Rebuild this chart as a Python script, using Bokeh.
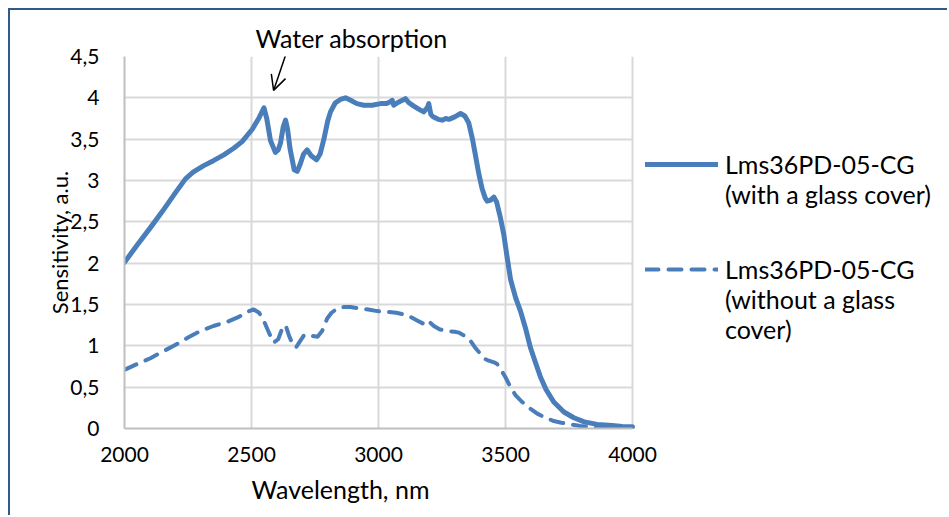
from bokeh.plotting import figure
from bokeh.models import (Legend, LegendItem, Title, Arrow, OpenHead, FixedTicker,
                          CustomJSTickFormatter, Range1d, Grid)
from bokeh.embed import file_html
from bokeh.resources import INLINE

# ---- data ----
wl_glass = [2000, 2050, 2102, 2150, 2200, 2240, 2270, 2312, 2350, 2391, 2430, 2463, 2503,
            2530, 2549, 2560, 2575, 2594, 2605, 2614, 2625, 2634, 2642, 2652, 2668, 2680,
            2692, 2705, 2719, 2735, 2756, 2770, 2785, 2800, 2811, 2830, 2850, 2870, 2890,
            2915, 2942, 2975, 3008, 3030, 3045, 3054, 3060, 3080, 3106, 3120, 3139, 3160,
            3178, 3192, 3198, 3206, 3215, 3235, 3251, 3265, 3277, 3300, 3323, 3340, 3355,
            3370, 3382, 3395, 3408, 3420, 3428, 3440, 3454, 3465, 3480, 3493, 3505, 3520,
            3540, 3559, 3580, 3598, 3620, 3638, 3660, 3690, 3730, 3769, 3810, 3861, 3920,
            3960, 4000]
sens_glass = [2.01, 2.22, 2.43, 2.63, 2.85, 3.02, 3.10, 3.18, 3.24, 3.31, 3.39, 3.47, 3.62,
              3.76, 3.88, 3.75, 3.48, 3.34, 3.37, 3.45, 3.65, 3.73, 3.62, 3.38, 3.13, 3.11,
              3.20, 3.32, 3.37, 3.30, 3.25, 3.32, 3.50, 3.72, 3.83, 3.94, 3.98, 4.00, 3.97,
              3.93, 3.91, 3.91, 3.93, 3.93, 3.95, 3.97, 3.91, 3.95, 3.99, 3.94, 3.90, 3.86,
              3.83, 3.88, 3.93, 3.80, 3.77, 3.74, 3.73, 3.75, 3.74, 3.77, 3.81, 3.78, 3.70,
              3.50, 3.30, 3.08, 2.90, 2.79, 2.75, 2.76, 2.80, 2.74, 2.55, 2.35, 2.10, 1.80,
              1.58, 1.42, 1.20, 0.98, 0.78, 0.62, 0.47, 0.32, 0.20, 0.13, 0.08, 0.05, 0.035,
              0.025, 0.02]

wl_noglass = [2000, 2050, 2102, 2150, 2194, 2250, 2299, 2350, 2404, 2450, 2483, 2509, 2530,
              2549, 2570, 2588, 2605, 2620, 2634, 2648, 2662, 2675, 2690, 2705, 2720, 2740,
              2760, 2778, 2798, 2815, 2837, 2865, 2890, 2930, 2960, 2995, 3034, 3070, 3100,
              3126, 3150, 3175, 3190, 3200, 3218, 3240, 3270, 3300, 3316, 3340, 3362, 3380,
              3402, 3420, 3434, 3455, 3467, 3480, 3500, 3520, 3540, 3566, 3598, 3625, 3651,
              3690, 3720, 3756, 3795, 3830, 3861, 3900, 3950, 4000]
sens_noglass = [0.71, 0.78, 0.85, 0.93, 1.00, 1.10, 1.18, 1.24, 1.29, 1.35, 1.41, 1.44, 1.40,
                1.30, 1.15, 1.04, 1.08, 1.20, 1.25, 1.12, 1.02, 0.98, 1.05, 1.12, 1.14, 1.12,
                1.11, 1.18, 1.33, 1.40, 1.45, 1.47, 1.47, 1.45, 1.44, 1.42, 1.41, 1.40, 1.38,
                1.35, 1.31, 1.27, 1.31, 1.29, 1.24, 1.20, 1.18, 1.17, 1.16, 1.12, 1.06, 0.98,
                0.90, 0.84, 0.82, 0.80, 0.78, 0.72, 0.62, 0.50, 0.40, 0.32, 0.24, 0.18, 0.14,
                0.09, 0.07, 0.05, 0.03, 0.02, 0.01, 0.0, 0.005, 0.01]

x_ticks = [2000, 2500, 3000, 3500, 4000]
y_ticks = [0, 0.5, 1, 1.5, 2, 2.5, 3, 3.5, 4, 4.5]

# leading blank lines keep the legend glyph level with the first text line
label_glass = "\nLms36PD-05-CG\n(with a glass cover)"
label_noglass = "\n\nLms36PD-05-CG\n(without a glass\ncover)"
x_title = "Wavelength, nm"
y_title = "Sensitivity, a.u."
note_text = "Water absorption"

BLUE = "#4A7EBB"
FONT = "Lato"
X0, X1 = 2000, 4000
PX_PER_UNIT = 508 / 2000          # plot-area scale of the reference
x_end = X0 + 825 / PX_PER_UNIT    # frame runs on to the right edge (legend area)

p = figure(width=939, height=507, output_backend="svg", toolbar_location=None,
           x_range=Range1d(X0, x_end), y_range=Range1d(0, 4.5),
           min_border_left=114, min_border_right=0, min_border_top=46,
           min_border_bottom=89, margin=(8, 0, 0, 8))
p.styles = {"border-top": "2px solid #2F5A8E", "border-left": "2px solid #2F5A8E"}
p.outline_line_color = None
p.background_fill_color = "white"
p.border_fill_color = "white"

for ax in (p.xaxis[0], p.yaxis[0]):
    ax.axis_line_color = "#BFBFBF"
    ax.axis_line_width = 2
    ax.major_tick_line_color = None
    ax.minor_tick_line_color = None
    ax.major_label_text_font = FONT
    ax.major_label_text_font_size = "21px"
    ax.major_label_text_color = "#000000"

p.xaxis.bounds = (X0, X1)
p.xaxis.ticker = FixedTicker(ticks=x_ticks)
p.yaxis.ticker = FixedTicker(ticks=y_ticks)
p.yaxis.formatter = CustomJSTickFormatter(code="return tick.toString().replace('.', ',');")
p.xaxis.major_label_standoff = 12
p.yaxis.major_label_standoff = 19

p.xgrid.grid_line_color = "#D9D9D9"
p.ygrid.grid_line_color = "#D9D9D9"
p.xgrid.grid_line_width = 2
p.ygrid.grid_line_width = 2
if "cross_bounds" in Grid.properties():
    p.ygrid.cross_bounds = (X0, X1)

r1 = p.line(wl_glass, sens_glass, line_color=BLUE, line_width=5, line_join="round",
            line_cap="round")
r2 = p.line(wl_noglass, sens_noglass, line_color=BLUE, line_width=4, line_dash="13 10",
            line_join="round", line_cap="round")

leg1 = Legend(items=[LegendItem(label=label_glass, renderers=[r1])], location=(521, 219))
leg2 = Legend(items=[LegendItem(label=label_noglass, renderers=[r2])], location=(521, 84))
for lg in (leg1, leg2):
    lg.glyph_width = 73
    lg.glyph_height = 30
    lg.label_standoff = 7
    lg.padding = 0
    lg.margin = 0
    lg.spacing = 0
    lg.border_line_color = None
    lg.background_fill_alpha = 0
    lg.label_text_font = FONT
    lg.label_text_font_size = "25px"
    lg.label_text_color = "#000000"
    p.add_layout(lg, "center")

p.add_layout(Title(text=x_title, align="left", offset=127, standoff=14,
                   text_font=FONT, text_font_size="25px", text_font_style="normal",
                   text_color="#000000"), "below")
p.add_layout(Title(text=y_title, align="center", offset=42, standoff=-10,
                   text_font=FONT, text_font_size="22px", text_font_style="normal",
                   text_color="#000000"), "left")
p.add_layout(Title(text=note_text, align="left", offset=131, standoff=8,
                   text_font=FONT, text_font_size="25px", text_font_style="normal",
                   text_color="#000000"), "above")
p.add_layout(Arrow(end=OpenHead(size=15, line_width=1.5, line_color="black"),
                   x_start=2638, y_start=4.55, x_end=2587, y_end=4.09,
                   line_width=1.5, line_color="black"))

open("out.html", "w").write(file_html(p, INLINE))
